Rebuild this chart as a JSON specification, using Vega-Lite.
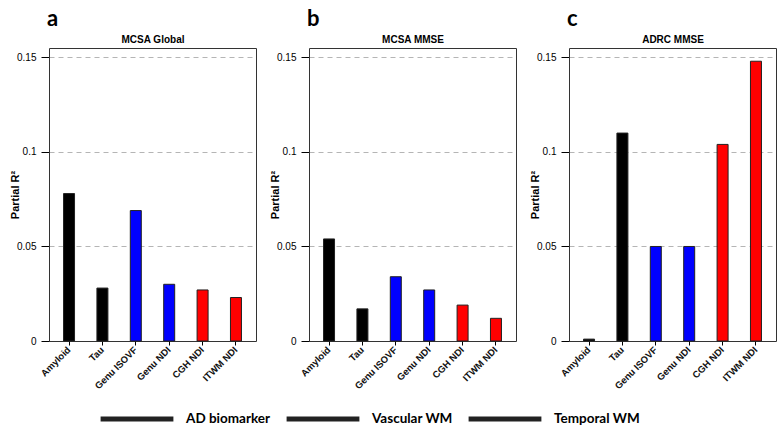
{
  "$schema": "https://vega.github.io/schema/vega-lite/v6.json",
  "padding": {"left": 8, "right": 4, "top": 7, "bottom": 0},
  "background": "white",
  "datasets": {
    "bars": [
      {"panel": "a", "marker": "Amyloid", "group": "AD biomarker", "value": 0.078},
      {"panel": "a", "marker": "Tau", "group": "AD biomarker", "value": 0.028},
      {"panel": "a", "marker": "Genu ISOVF", "group": "Vascular WM", "value": 0.069},
      {"panel": "a", "marker": "Genu NDI", "group": "Vascular WM", "value": 0.030},
      {"panel": "a", "marker": "CGH NDI", "group": "Temporal WM", "value": 0.027},
      {"panel": "a", "marker": "ITWM NDI", "group": "Temporal WM", "value": 0.023},
      {"panel": "b", "marker": "Amyloid", "group": "AD biomarker", "value": 0.054},
      {"panel": "b", "marker": "Tau", "group": "AD biomarker", "value": 0.017},
      {"panel": "b", "marker": "Genu ISOVF", "group": "Vascular WM", "value": 0.034},
      {"panel": "b", "marker": "Genu NDI", "group": "Vascular WM", "value": 0.027},
      {"panel": "b", "marker": "CGH NDI", "group": "Temporal WM", "value": 0.019},
      {"panel": "b", "marker": "ITWM NDI", "group": "Temporal WM", "value": 0.012},
      {"panel": "c", "marker": "Amyloid", "group": "AD biomarker", "value": 0.001},
      {"panel": "c", "marker": "Tau", "group": "AD biomarker", "value": 0.110},
      {"panel": "c", "marker": "Genu ISOVF", "group": "Vascular WM", "value": 0.050},
      {"panel": "c", "marker": "Genu NDI", "group": "Vascular WM", "value": 0.050},
      {"panel": "c", "marker": "CGH NDI", "group": "Temporal WM", "value": 0.104},
      {"panel": "c", "marker": "ITWM NDI", "group": "Temporal WM", "value": 0.148}
    ]
  },
  "data": {"name": "bars"},
  "spacing": 11,
  "resolve": {"scale": {"fill": "shared"}, "legend": {"fill": "shared"}},
  "hconcat": [
    {
      "width": 207, "height": 293,
      "title": {"text": "a"},
      "transform": [{"filter": "datum.panel == 'a'"}],
      "layer": [
        {
          "mark": {"type": "bar", "stroke": "#222222", "strokeWidth": 1, "size": 11},
          "encoding": {
            "x": {"field": "marker", "type": "nominal", "sort": null,
                  "scale": {"paddingInner": 0, "paddingOuter": 0.1},
                  "axis": {"title": null, "labelAngle": -45, "labelAlign": "right", "labelBaseline": "middle", "labelPadding": 3, "labelFontSize": 9.5, "labelFontWeight": "bold", "labelFont": "Liberation Sans", "labelColor": "#111111", "tickSize": 4, "tickColor": "black", "domain": false}},
            "y": {"field": "value", "type": "quantitative",
                  "scale": {"domain": [0, 0.155], "nice": false, "zero": true},
                  "axis": {"title": "Partial R²", "titleFont": "Liberation Sans", "titleFontSize": 11, "titleFontWeight": "bold", "titleColor": "black", "titleX": -29, "titleY": 146.5, "values": [0, 0.05, 0.1, 0.15], "format": "~g", "labelFont": "Liberation Sans", "labelFontSize": 10, "labelColor": "black", "labelPadding": 5, "tickSize": 8, "tickColor": "black", "domain": false, "grid": true, "gridDash": [5, 4], "gridColor": "#b5b5b5", "gridOpacity": {"condition": {"test": "datum.value === 0", "value": 0}, "value": 1}}},
            "fill": {"field": "group", "type": "nominal",
                     "scale": {"domain": ["AD biomarker", "Vascular WM", "Temporal WM"], "range": ["#000000", "#0000ff", "#ff0000"]},
                     "legend": {"title": null, "orient": "none", "legendX": 49, "legendY": 363, "padding": 0, "direction": "horizontal", "symbolType": "stroke", "symbolSize": 5300, "symbolStrokeWidth": 5, "clipHeight": 16, "labelFont": "Lato", "labelFontSize": 13.5, "labelFontWeight": "bold", "labelColor": "black", "labelOffset": 10, "columnPadding": 13,
                                "encode": {"symbols": {"update": {"stroke": {"scale": "fill", "field": "value"}, "strokeWidth": {"value": 5}}}}}}
          }
        },
        {
          "mark": {"type": "bar", "opacity": 0, "size": 11},
          "encoding": {
            "x": {"field": "marker", "type": "nominal", "sort": null,
                  "axis": {"orient": "top", "title": "MCSA Global", "labels": false, "ticks": false, "domain": false, "titleFont": "Liberation Sans", "titleFontSize": 10, "titleFontWeight": "bold", "titleColor": "black", "titlePadding": 4}},
            "y": {"field": "value", "type": "quantitative"}
          }
        }
      ],
      "resolve": {"axis": {"x": "independent"}}
    },
    {
      "width": 207, "height": 293,
      "title": {"text": "b"},
      "transform": [{"filter": "datum.panel == 'b'"}],
      "layer": [
        {
          "mark": {"type": "bar", "stroke": "#222222", "strokeWidth": 1, "size": 11},
          "encoding": {
            "x": {"field": "marker", "type": "nominal", "sort": null,
                  "scale": {"paddingInner": 0, "paddingOuter": 0.1},
                  "axis": {"title": null, "labelAngle": -45, "labelAlign": "right", "labelBaseline": "middle", "labelPadding": 3, "labelFontSize": 9.5, "labelFontWeight": "bold", "labelFont": "Liberation Sans", "labelColor": "#111111", "tickSize": 4, "tickColor": "black", "domain": false}},
            "y": {"field": "value", "type": "quantitative",
                  "scale": {"domain": [0, 0.155], "nice": false, "zero": true},
                  "axis": {"title": "Partial R²", "titleFont": "Liberation Sans", "titleFontSize": 11, "titleFontWeight": "bold", "titleColor": "black", "titleX": -29, "titleY": 146.5, "values": [0, 0.05, 0.1, 0.15], "format": "~g", "labelFont": "Liberation Sans", "labelFontSize": 10, "labelColor": "black", "labelPadding": 5, "tickSize": 8, "tickColor": "black", "domain": false, "grid": true, "gridDash": [5, 4], "gridColor": "#b5b5b5", "gridOpacity": {"condition": {"test": "datum.value === 0", "value": 0}, "value": 1}}},
            "fill": {"field": "group", "type": "nominal",
                     "scale": {"domain": ["AD biomarker", "Vascular WM", "Temporal WM"], "range": ["#000000", "#0000ff", "#ff0000"]},
                     "legend": {"title": null, "orient": "none", "legendX": 49, "legendY": 363, "padding": 0, "direction": "horizontal", "symbolType": "stroke", "symbolSize": 5300, "symbolStrokeWidth": 5, "clipHeight": 16, "labelFont": "Lato", "labelFontSize": 13.5, "labelFontWeight": "bold", "labelColor": "black", "labelOffset": 10, "columnPadding": 13,
                                "encode": {"symbols": {"update": {"stroke": {"scale": "fill", "field": "value"}, "strokeWidth": {"value": 5}}}}}}
          }
        },
        {
          "mark": {"type": "bar", "opacity": 0, "size": 11},
          "encoding": {
            "x": {"field": "marker", "type": "nominal", "sort": null,
                  "axis": {"orient": "top", "title": "MCSA MMSE", "labels": false, "ticks": false, "domain": false, "titleFont": "Liberation Sans", "titleFontSize": 10, "titleFontWeight": "bold", "titleColor": "black", "titlePadding": 4}},
            "y": {"field": "value", "type": "quantitative"}
          }
        }
      ],
      "resolve": {"axis": {"x": "independent"}}
    },
    {
      "width": 207, "height": 293,
      "title": {"text": "c"},
      "transform": [{"filter": "datum.panel == 'c'"}],
      "layer": [
        {
          "mark": {"type": "bar", "stroke": "#222222", "strokeWidth": 1, "size": 11},
          "encoding": {
            "x": {"field": "marker", "type": "nominal", "sort": null,
                  "scale": {"paddingInner": 0, "paddingOuter": 0.1},
                  "axis": {"title": null, "labelAngle": -45, "labelAlign": "right", "labelBaseline": "middle", "labelPadding": 3, "labelFontSize": 9.5, "labelFontWeight": "bold", "labelFont": "Liberation Sans", "labelColor": "#111111", "tickSize": 4, "tickColor": "black", "domain": false}},
            "y": {"field": "value", "type": "quantitative",
                  "scale": {"domain": [0, 0.155], "nice": false, "zero": true},
                  "axis": {"title": "Partial R²", "titleFont": "Liberation Sans", "titleFontSize": 11, "titleFontWeight": "bold", "titleColor": "black", "titleX": -29, "titleY": 146.5, "values": [0, 0.05, 0.1, 0.15], "format": "~g", "labelFont": "Liberation Sans", "labelFontSize": 10, "labelColor": "black", "labelPadding": 5, "tickSize": 8, "tickColor": "black", "domain": false, "grid": true, "gridDash": [5, 4], "gridColor": "#b5b5b5", "gridOpacity": {"condition": {"test": "datum.value === 0", "value": 0}, "value": 1}}},
            "fill": {"field": "group", "type": "nominal",
                     "scale": {"domain": ["AD biomarker", "Vascular WM", "Temporal WM"], "range": ["#000000", "#0000ff", "#ff0000"]},
                     "legend": {"title": null, "orient": "none", "legendX": 49, "legendY": 363, "padding": 0, "direction": "horizontal", "symbolType": "stroke", "symbolSize": 5300, "symbolStrokeWidth": 5, "clipHeight": 16, "labelFont": "Lato", "labelFontSize": 13.5, "labelFontWeight": "bold", "labelColor": "black", "labelOffset": 10, "columnPadding": 13,
                                "encode": {"symbols": {"update": {"stroke": {"scale": "fill", "field": "value"}, "strokeWidth": {"value": 5}}}}}}
          }
        },
        {
          "mark": {"type": "bar", "opacity": 0, "size": 11},
          "encoding": {
            "x": {"field": "marker", "type": "nominal", "sort": null,
                  "axis": {"orient": "top", "title": "ADRC MMSE", "labels": false, "ticks": false, "domain": false, "titleFont": "Liberation Sans", "titleFontSize": 10, "titleFontWeight": "bold", "titleColor": "black", "titlePadding": 4}},
            "y": {"field": "value", "type": "quantitative"}
          }
        }
      ],
      "resolve": {"axis": {"x": "independent"}}
    }
  ],
  "config": {
    "view": {"stroke": "#333333", "strokeWidth": 1},
    "title": {"anchor": "start", "frame": "group", "font": "Lato", "fontSize": 22, "fontWeight": "bold", "color": "black", "offset": 3, "dx": -2}
  }
}
